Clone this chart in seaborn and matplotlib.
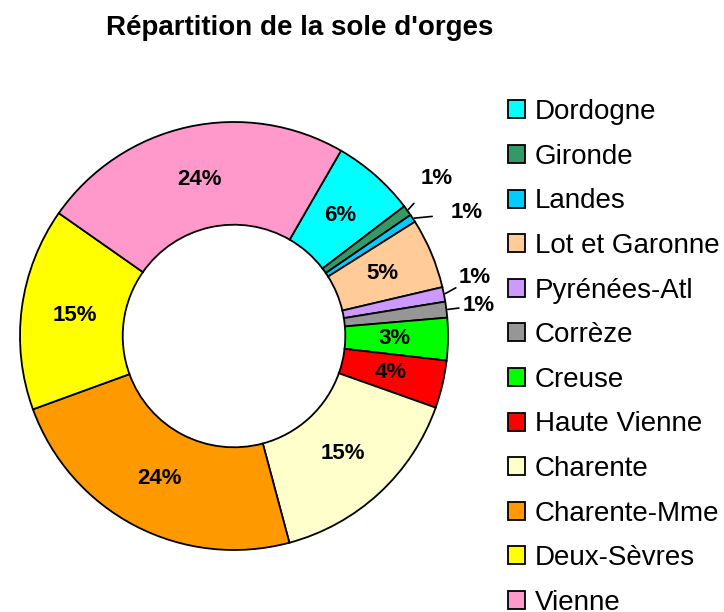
import matplotlib
matplotlib.use("Agg")
import matplotlib.pyplot as plt
import numpy as np
import seaborn as sns

sns.set_theme(style="white")
plt.rcParams["font.family"] = ["Liberation Sans", "DejaVu Sans"]
plt.rcParams["text.color"] = "black"

regions = ["Dordogne", "Gironde", "Landes", "Lot et Garonne", "Pyrénées-Atl",
           "Corrèze", "Creuse", "Haute Vienne", "Charente", "Charente-Mme",
           "Deux-Sèvres", "Vienne"]
shares = [6.3, 0.8, 0.6, 5.3, 1.1, 1.2, 3.2, 3.6, 15.4, 23.6, 15.3, 23.6]
colors = ["#00FFFF", "#339966", "#00CCFF", "#FFCC99", "#CC99FF", "#969696",
          "#00FF00", "#FF0000", "#FFFFCC", "#FF9900", "#FFFF00", "#FF99CC"]

# small slices get their label outside, with a leader line (angle shift, radius)
outside = {"Gironde": (2, 1.2), "Landes": (-5.5, 1.23),
           "Pyrénées-Atl": (2.5, 1.16), "Corrèze": (0, 1.15)}

fig = plt.figure(figsize=(7.24, 6.12), dpi=100)
ax = fig.add_axes([20 / 724, 62 / 612, 428 / 724, 428 / 612])

wedges, _ = ax.pie(shares, colors=colors, startangle=60, counterclock=False,
                   radius=1, wedgeprops=dict(width=0.48, edgecolor="black", linewidth=1.3))
ax.set_xlim(-1, 1)
ax.set_ylim(-1, 1)
ax.set_aspect("equal")

for w, name, val in zip(wedges, regions, shares):
    mid = np.deg2rad((w.theta1 + w.theta2) / 2)
    txt = f"{round(val):d}%"
    if name in outside:
        shift, r = outside[name]
        a = mid + np.deg2rad(shift)
        ax.annotate(txt, xy=(1.0 * np.cos(mid), 1.0 * np.sin(mid)),
                    xytext=(r * np.cos(a), r * np.sin(a)),
                    ha="center", va="center", fontsize=16, fontweight="bold",
                    arrowprops=dict(arrowstyle="-", color="black", lw=1.2,
                                    shrinkA=11, shrinkB=1),
                    annotation_clip=False)
    else:
        ax.text(0.75 * np.cos(mid), 0.75 * np.sin(mid), txt, ha="center",
                va="center", fontsize=16, fontweight="bold")

leg = fig.legend(wedges, regions, loc="upper left", bbox_to_anchor=(497 / 724, 1 - 88 / 612),
                 frameon=False, fontsize=20, handlelength=0.62, handleheight=0.62,
                 handletextpad=0.35, labelspacing=0.67, borderaxespad=0)

fig.text(300 / 724, 1 - 28 / 612, "Répartition de la sole d'orges", ha="center",
         va="center", fontsize=20, fontweight="bold")

fig.savefig("out.png", dpi=100)
